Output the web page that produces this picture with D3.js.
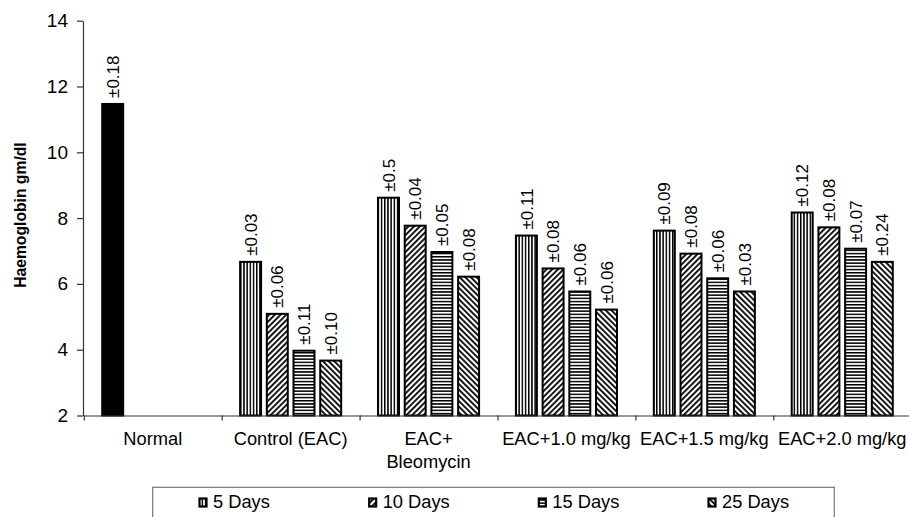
<!DOCTYPE html>
<html>
<head>
<meta charset="utf-8">
<script src="https://cdn.jsdelivr.net/npm/d3@7"></script>
<style>
  html, body { margin: 0; padding: 0; background: #fff; }
  svg { display: block; font-family: "Liberation Sans", Arial, sans-serif; }
</style>
</head>
<body>
<svg id="chart" width="909" height="517"></svg>
<script>
// ---- data ----
const categories = ["Normal", "Control (EAC)", "EAC+|Bleomycin", "EAC+1.0 mg/kg", "EAC+1.5 mg/kg", "EAC+2.0 mg/kg"];
const seriesNames = ["5 Days", "10 Days", "15 Days", "25 Days"];
const days5  = [11.5, 6.7, 8.65, 7.5, 7.65, 8.2];
const days10 = [null, 5.12, 7.8, 6.5, 6.95, 7.75];
const days15 = [null, 4.0, 7.0, 5.8, 6.2, 7.1];
const days25 = [null, 3.7, 6.25, 5.25, 5.8, 6.7];
const err5  = ["±0.18", "±0.03", "±0.5", "±0.11", "±0.09", "±0.12"];
const err10 = [null, "±0.06", "±0.04", "±0.08", "±0.08", "±0.08"];
const err15 = [null, "±0.11", "±0.05", "±0.06", "±0.06", "±0.07"];
const err25 = [null, "±0.10", "±0.08", "±0.06", "±0.03", "±0.24"];
const yTicks = [2, 4, 6, 8, 10, 12, 14];
const yTitle = "Haemoglobin gm/dl";

const values = [days5, days10, days15, days25];
const errors = [err5, err10, err15, err25];
const patternIds = ["pVert", "pUp", "pHoriz", "pDown"];

// ---- layout ----
const svg = d3.select("#chart");
const mLeft = 83.8, mRight = 911.2, mTop = 20.7, mBottom = 415.5;

const x0 = d3.scaleBand().domain(categories).range([mLeft, mRight]).paddingInner(0).paddingOuter(0);
const bw = x0.bandwidth();
const cluster = 106.8;
const x1 = d3.scaleBand().domain(seriesNames)
  .range([(bw - cluster) / 2, (bw + cluster) / 2])
  .paddingInner(0.14).paddingOuter(0.07);
const y = d3.scaleLinear().domain([2, 14]).range([mBottom, mTop]);

// ---- patterns ----
const defs = svg.append("defs");
function pat(id, w, h, rot, draw) {
  const p = defs.append("pattern").attr("id", id)
    .attr("patternUnits", "userSpaceOnUse").attr("width", w).attr("height", h);
  if (rot) p.attr("patternTransform", `rotate(${rot})`);
  p.append("rect").attr("width", w).attr("height", h).attr("fill", "#fff");
  draw(p);
}
pat("pVert", 3.2, 3.2, 0, p => p.append("rect").attr("x", 0).attr("y", 0).attr("width", 1.5).attr("height", 3.2).attr("fill", "#000"));
pat("pHoriz", 3.2, 3.2, 0, p => p.append("rect").attr("x", 0).attr("y", 0).attr("width", 3.2).attr("height", 1.5).attr("fill", "#000"));
pat("pUp", 4, 4, 45, p => p.append("rect").attr("x", 0).attr("y", 0).attr("width", 1.8).attr("height", 4).attr("fill", "#000"));
pat("pDown", 4, 4, -45, p => p.append("rect").attr("x", 0).attr("y", 0).attr("width", 1.8).attr("height", 4).attr("fill", "#000"));

// ---- bars ----
const barData = [];
seriesNames.forEach((s, si) => {
  categories.forEach((c, ci) => {
    const v = values[si][ci];
    if (v == null) return;
    barData.push({ s, si, c, ci, v, e: errors[si][ci] });
  });
});

const g = svg.append("g");
const sw = 2;
g.selectAll("rect.bar").data(barData).join("rect")
  .attr("class", "bar")
  .attr("x", d => x0(d.c) + x1(d.s) + sw / 2)
  .attr("y", d => y(d.v) + sw / 2)
  .attr("width", x1.bandwidth() - sw)
  .attr("height", d => y(2) - y(d.v) - sw / 2)
  .attr("fill", d => d.ci === 0 ? "#000" : `url(#${patternIds[d.si]})`)
  .attr("stroke", "#000")
  .attr("stroke-width", sw);

// error labels
g.selectAll("text.err").data(barData).join("text")
  .attr("class", "err")
  .attr("transform", d => `translate(${x0(d.c) + x1(d.s) + x1.bandwidth() / 2},${y(d.v) - 5}) rotate(-90)`)
  .attr("dy", "0.36em")
  .attr("font-size", 17)
  .attr("fill", "#000")
  .text(d => d.e);

// ---- axes ----
const yAxis = svg.append("g").attr("transform", `translate(${mLeft - 0.8},0)`)
  .call(d3.axisLeft(y).tickValues(yTicks).tickSize(6).tickSizeOuter(0).tickPadding(9).tickFormat(d3.format("d")));
yAxis.select(".domain").attr("stroke", "#333").attr("stroke-width", 1.2);
yAxis.selectAll(".tick line").attr("stroke", "#333").attr("stroke-width", 1.2);
yAxis.selectAll(".tick text").attr("font-size", 19).attr("font-family", "Liberation Sans, Arial, sans-serif").attr("fill", "#000");

const xLin = d3.scaleLinear().domain([0, categories.length]).range([mLeft, mRight]);
const xAxis = svg.append("g").attr("transform", `translate(0,${mBottom})`)
  .call(d3.axisBottom(xLin).tickValues(d3.range(categories.length + 1)).tickSize(5).tickSizeOuter(0).tickFormat(""));
xAxis.select(".domain").attr("stroke", "#333").attr("stroke-width", 1.2);
xAxis.selectAll(".tick line").attr("stroke", "#333").attr("stroke-width", 1.2);

// category labels
const catG = svg.append("g");
categories.forEach(c => {
  const lines = c.split("|");
  const t = catG.append("text")
    .attr("x", x0(c) + bw / 2)
    .attr("y", 445)
    .attr("text-anchor", "middle")
    .attr("font-size", 18.3)
    .attr("fill", "#000");
  lines.forEach((ln, i) => {
    t.append("tspan").attr("x", x0(c) + bw / 2).attr("dy", i === 0 ? 0 : 23).text(ln);
  });
});

// y title
svg.append("text")
  .attr("transform", `translate(26,${(mTop + mBottom) / 2 - 3}) rotate(-90)`)
  .attr("text-anchor", "middle")
  .attr("font-size", 15.7)
  .attr("font-weight", "bold")
  .attr("fill", "#000")
  .text(yTitle);

// ---- legend ----
const leg = svg.append("g");
leg.append("rect")
  .attr("x", 152.7).attr("y", 487.3)
  .attr("width", 834.3 - 152.7).attr("height", 60)
  .attr("fill", "#fff").attr("stroke", "#777").attr("stroke-width", 1.2);
const legX = d3.scalePoint().domain(seriesNames).range([199, 708]);
seriesNames.forEach((s, i) => {
  const gx = legX(s);
  leg.append("rect")
    .attr("x", gx + 0.5).attr("y", 498.5)
    .attr("width", 7).attr("height", 8)
    .attr("fill", `url(#${patternIds[i]})`)
    .attr("stroke", "#000").attr("stroke-width", 2.2);
  leg.append("text")
    .attr("x", gx + 14).attr("y", 508)
    .attr("font-size", 18.3)
    .attr("fill", "#000")
    .text(s);
});
</script>
</body>
</html>
